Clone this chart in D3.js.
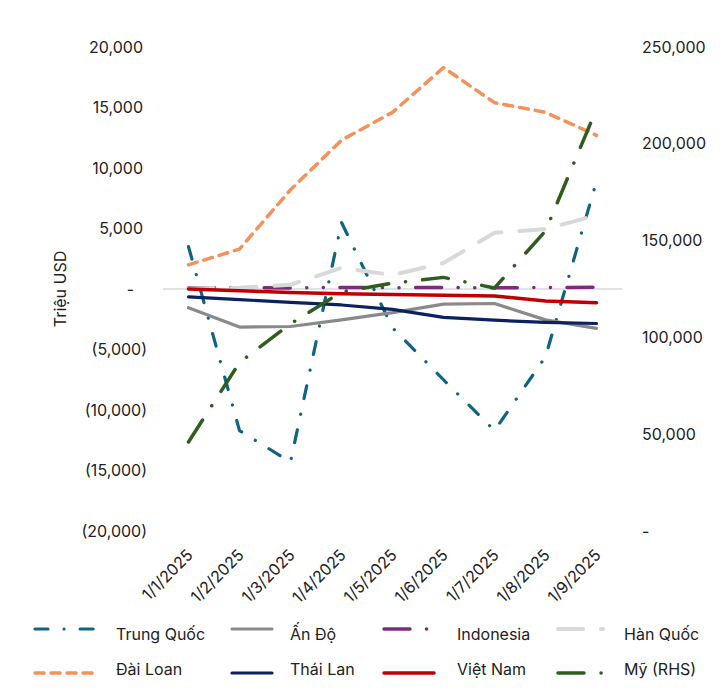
<!DOCTYPE html>
<html>
<head>
<meta charset="utf-8">
<script src="https://cdn.jsdelivr.net/npm/d3@7"></script>
<style>
  body { margin: 0; background: #fff; }
  svg { display: block; }
  text { font-family: Inter, "Noto Sans", "DejaVu Sans", sans-serif; fill: #222; font-size: 16px; }
</style>
</head>
<body>
<svg id="chart" width="726" height="698"></svg>
<script>
// Months (category axis)
const months = ["1/1/2025", "1/2/2025", "1/3/2025", "1/4/2025", "1/5/2025",
                "1/6/2025", "1/7/2025", "1/8/2025", "1/9/2025"];

// Left-axis series, million USD
const trungQuoc = [3500, -11700, -14300, 5500, -3200, -7500, -11700, -5600, 8900];
const anDo      = [-1550, -3150, -3100, -2550, -1950, -1250, -1200, -2550, -3250];
const indonesia = [100, 120, 90, 130, 110, 120, 100, 130, 140];
const hanQuoc   = [50, 100, 350, 1750, 1150, 2150, 4650, 4950, 6100];
const daiLoan   = [2000, 3300, 8200, 12300, 14600, 18300, 15400, 14600, 12700];
const thaiLan   = [-650, -880, -1100, -1320, -1680, -2350, -2580, -2760, -2850];
const vietNam   = [0, -140, -280, -400, -450, -520, -580, -1000, -1130];

// Right-axis series (RHS), million USD
const my        = [46000, 87000, 107000, 123500, 128000, 131000, 125500, 155000, 218000];

// Tick values
const leftTicks  = [-20000, -15000, -10000, -5000, 0, 5000, 10000, 15000, 20000];
const rightTicks = [0, 50000, 100000, 150000, 200000, 250000];

// Series drawing order and appearance
const series = [
  { name: "Trung Quốc", values: trungQuoc, axis: "L", color: "#0f6383", width: 3.2, dash: "13,16,0.1,16" },
  { name: "Ấn Độ",      values: anDo,      axis: "L", color: "#8a8a8a", width: 3.2, dash: null },
  { name: "Indonesia",  values: indonesia, axis: "L", color: "#7b2c7b", width: 3.5, dash: "26,16.5,0.1,16.5,0.1,16.5" },
  { name: "Hàn Quốc",   values: hanQuoc,   axis: "L", color: "#d9d9d9", width: 4,   dash: "25,18" },
  { name: "Đài Loan",   values: daiLoan,   axis: "L", color: "#f3925c", width: 3.5, dash: "9,7" },
  { name: "Thái Lan",   values: thaiLan,   axis: "L", color: "#0b2160", width: 3.2, dash: null },
  { name: "Việt Nam",   values: vietNam,   axis: "L", color: "#c00000", width: 3.5, dash: null },
  { name: "Mỹ (RHS)",   values: my,        axis: "R", color: "#2e5d1f", width: 3.5, dash: "26,17,0.1,17" }
];

const svg = d3.select("#chart");

const x  = d3.scalePoint().domain(months).range([163, 622]).padding(0.5);
const yL = d3.scaleLinear().domain([-20000, 20000]).range([531, 47]);
const yR = d3.scaleLinear().domain([0, 250000]).range([531, 47]);

// Zero line
svg.append("line")
  .attr("x1", 163).attr("x2", 622)
  .attr("y1", yL(0)).attr("y2", yL(0))
  .attr("stroke", "#d9d9d9").attr("stroke-width", 1.5);

// Left axis: accounting style numbers
const num = d3.format(",");
const fmtL = v => v === 0 ? "-" : v < 0 ? "(" + num(-v) + ")" : num(v);
const gL = svg.append("g")
  .attr("transform", "translate(147,0)")
  .call(d3.axisLeft(yL).tickValues(leftTicks).tickFormat(fmtL).tickSize(0).tickPadding(0));
gL.select(".domain").remove();
gL.selectAll("text")
  .attr("x", d => d < 0 ? 0 : d === 0 ? -13 : -4);

// Right axis
const fmtR = v => v === 0 ? "-" : num(v);
const gR = svg.append("g")
  .attr("transform", "translate(642,0)")
  .call(d3.axisRight(yR).tickValues(rightTicks).tickFormat(fmtR).tickSize(0).tickPadding(0));
gR.select(".domain").remove();

// Category axis with rotated labels
const gX = svg.append("g")
  .attr("transform", "translate(0,556)")
  .call(d3.axisBottom(x).tickSize(0).tickPadding(0));
gX.select(".domain").remove();
gX.selectAll("text")
  .attr("x", 0).attr("y", 0).attr("dy", 0)
  .attr("text-anchor", "end")
  .attr("transform", "translate(5,0) rotate(-45)");

// Y-axis title
svg.append("text")
  .attr("transform", "translate(66,289) rotate(-90)")
  .attr("text-anchor", "middle")
  .text("Triệu USD");

// Lines
const lineFor = s => d3.line()
  .x((d, i) => x(months[i]))
  .y(d => (s.axis === "R" ? yR : yL)(d));

svg.append("g").selectAll("path")
  .data(series)
  .join("path")
  .attr("d", s => lineFor(s)(s.values))
  .attr("fill", "none")
  .attr("stroke", s => s.color)
  .attr("stroke-width", s => s.width)
  .attr("stroke-dasharray", s => s.dash)
  .attr("stroke-linecap", "round")
  .attr("stroke-linejoin", "round");

// Legend: 4 columns x 2 rows
const legCols = [
  { sx: 35,  len: 60, tx: 116 },
  { sx: 232, len: 40, tx: 290 },
  { sx: 384, len: 50, tx: 457 },
  { sx: 558, len: 45, tx: 624 }
];
const legRows = [{ sy: 629, ty: 640 }, { sy: 673, ty: 675 }];

const leg = svg.append("g").selectAll("g")
  .data(series)
  .join("g");

leg.append("line")
  .attr("x1", (s, i) => legCols[i % 4].sx)
  .attr("x2", (s, i) => legCols[i % 4].sx + legCols[i % 4].len)
  .attr("y1", (s, i) => legRows[Math.floor(i / 4)].sy)
  .attr("y2", (s, i) => legRows[Math.floor(i / 4)].sy)
  .attr("stroke", s => s.color)
  .attr("stroke-width", s => s.width)
  .attr("stroke-dasharray", s => s.dash)
  .attr("stroke-linecap", "round");

leg.append("text")
  .attr("x", (s, i) => legCols[i % 4].tx)
  .attr("y", (s, i) => legRows[Math.floor(i / 4)].ty)
  .text(s => s.name);
</script>
</body>
</html>
